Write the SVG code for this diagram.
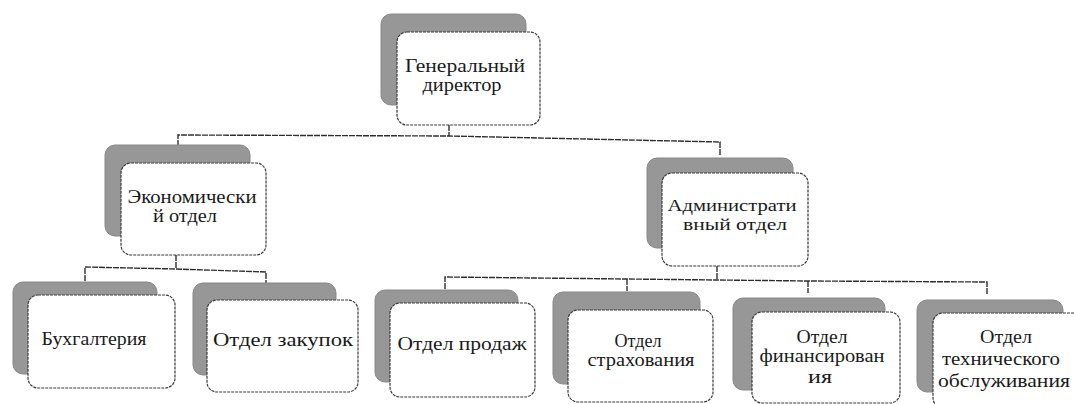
<svg xmlns="http://www.w3.org/2000/svg" width="1074" height="404" viewBox="0 0 1074 404">
<style>
.sh{fill:#979797;stroke:#888888;stroke-width:1}
.bx{fill:#ffffff;stroke:#3a3a3a;stroke-width:1.2;stroke-dasharray:3 1}
text{font-family:'Liberation Serif', 'Times New Roman', Times, 'DejaVu Serif', serif;font-size:18px;fill:#1a1a1a;text-anchor:middle}
.c{fill:none;stroke:#2e2e2e;stroke-width:1.4;stroke-dasharray:6 1}
</style>
<rect width="1074" height="404" fill="#ffffff"/>
<g id="connectors">
<path class="c" d="M449,125 V136"/>
<path class="c" d="M178,146 V135 L449,136 L720,142 V155"/>
<path class="c" d="M176,255 V269"/>
<path class="c" d="M85,281 V267 L176,269 L266,272 V284"/>
<path class="c" d="M717,266 V280"/>
<path class="c" d="M445,289 V277 L627,279 L808,281 L987,282 V294"/>
<path class="c" d="M627,279 V291"/>
<path class="c" d="M808,281 V293"/>
</g>
<g id="n-director" font-family="Liberation Serif">
<rect class="sh" x="381" y="14" width="145" height="91" rx="10"/>
<rect class="bx" x="397" y="32" width="143" height="93" rx="10"/>
<text x="465" y="72" textLength="120" lengthAdjust="spacingAndGlyphs">Генеральный</text>
<text x="462" y="91" textLength="79" lengthAdjust="spacingAndGlyphs">директор</text>
</g>
<g id="n-econ">
<rect class="sh" x="105" y="145" width="145" height="91" rx="10"/>
<rect class="bx" x="121" y="163" width="145" height="92" rx="10"/>
<text x="192" y="203" textLength="129" lengthAdjust="spacingAndGlyphs">Экономически</text>
<text x="185" y="222" textLength="64" lengthAdjust="spacingAndGlyphs">й отдел</text>
</g>
<g id="n-admin">
<rect class="sh" x="647" y="158" width="146" height="90" rx="10"/>
<rect class="bx" x="662" y="173" width="146" height="93" rx="10"/>
<text x="732" y="211" textLength="129" lengthAdjust="spacingAndGlyphs" style="font-size:17px">Администрати</text>
<text x="735" y="230" textLength="104" lengthAdjust="spacingAndGlyphs" style="font-size:17px">вный отдел</text>
</g>
<g id="n-buh">
<rect class="sh" x="13" y="282" width="144" height="92" rx="10"/>
<rect class="bx" x="28" y="295" width="147" height="93" rx="10"/>
<text x="94" y="345" textLength="105" lengthAdjust="spacingAndGlyphs">Бухгалтерия</text>
</g>
<g id="n-zakup">
<rect class="sh" x="193" y="283" width="143" height="92" rx="10"/>
<rect class="bx" x="207" y="300" width="151" height="92" rx="10"/>
<text x="283" y="346" textLength="140" lengthAdjust="spacingAndGlyphs">Отдел закупок</text>
</g>
<g id="n-prodazh">
<rect class="sh" x="375" y="290" width="143" height="92" rx="10"/>
<rect class="bx" x="390" y="303" width="145" height="94" rx="10"/>
<text x="462" y="350" textLength="129" lengthAdjust="spacingAndGlyphs">Отдел продаж</text>
</g>
<g id="n-strah">
<rect class="sh" x="553" y="292" width="147" height="92" rx="10"/>
<rect class="bx" x="568" y="310" width="145" height="92" rx="10"/>
<text x="638" y="347" textLength="47" lengthAdjust="spacingAndGlyphs">Отдел</text>
<text x="641" y="366" textLength="107" lengthAdjust="spacingAndGlyphs">страхования</text>
</g>
<g id="n-fin">
<rect class="sh" x="733" y="298" width="152" height="92" rx="10"/>
<rect class="bx" x="752" y="312" width="148" height="91" rx="10"/>
<text x="822" y="343" textLength="51" lengthAdjust="spacingAndGlyphs">Отдел</text>
<text x="822" y="362" textLength="125" lengthAdjust="spacingAndGlyphs">финансирован</text>
<text x="820" y="383" textLength="24" lengthAdjust="spacingAndGlyphs">ия</text>
</g>
<g id="n-tech">
<rect class="sh" x="917" y="300" width="146" height="92" rx="10"/>
<rect class="bx" x="933" y="313" width="150" height="95" rx="10"/>
<text x="1006" y="343" textLength="52" lengthAdjust="spacingAndGlyphs">Отдел</text>
<text x="1001" y="365" textLength="118" lengthAdjust="spacingAndGlyphs">технического</text>
<text x="1004" y="387" textLength="132" lengthAdjust="spacingAndGlyphs">обслуживания</text>
</g>
</svg>
